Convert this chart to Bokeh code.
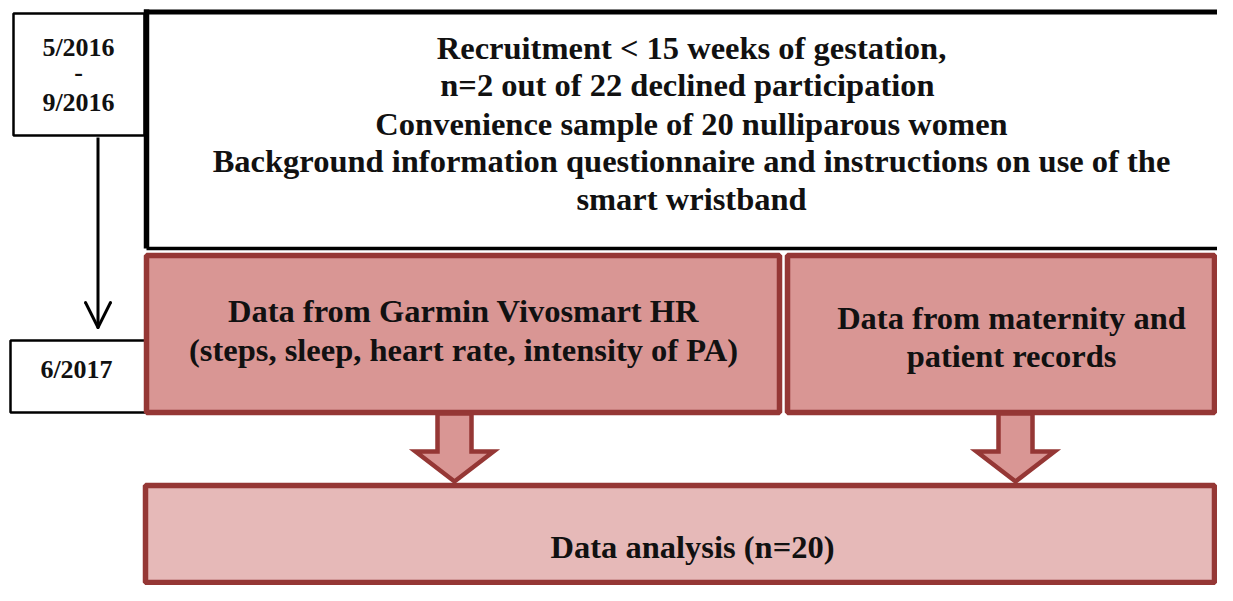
from bokeh.plotting import figure
from bokeh.models import Range1d
from bokeh.embed import file_html
from bokeh.resources import INLINE
from bokeh.core.properties import value

# ---- texts ----
period_start = ["5/2016", "-", "9/2016"]
period_end = ["6/2017"]
recruit_lines = [
    "Recruitment < 15 weeks of gestation,",
    "n=2  out of 22 declined participation",
    "Convenience sample of 20 nulliparous women",
    "Background information questionnaire and instructions on use of the",
    "smart wristband",
]
garmin_lines = ["Data from Garmin Vivosmart HR", "(steps, sleep, heart rate, intensity of PA)"]
records_lines = ["Data from maternity and", "patient records"]
analysis_lines = ["Data analysis (n=20)"]

FILL_RED = "#D99694"
FILL_LIGHT = "#E6B9B8"
EDGE_RED = "#953735"
FONT = value("Liberation Serif")

p = figure(width=1217, height=585, x_range=Range1d(0, 1217), y_range=Range1d(585, 0),
           output_backend="svg", toolbar_location=None, min_border=0)
p.axis.visible = False
p.grid.visible = False
p.outline_line_color = None
p.background_fill_color = "white"


def texts(xc, ys, lines, size):
    p.text(x=[xc] * len(lines), y=ys, text=lines, text_align="center",
           text_baseline="alphabetic", text_font=FONT, text_font_style="bold",
           text_font_size=size, text_color="#111111")


# left timeline boxes
p.quad(left=[13], right=[144], top=[13], bottom=[135], fill_color="white",
       line_color="black", line_width=2.5)
p.quad(left=[10], right=[145], top=[340], bottom=[412], fill_color="white",
       line_color="black", line_width=2.5)
texts(78, [47, 72, 102], period_start, "26px")
texts(76, [369], period_end, "26px")

# timeline arrow
p.segment(x0=[97.5], y0=[137], x1=[97.5], y1=[326], line_color="black", line_width=3)
p.segment(x0=[85, 110], y0=[302, 302], x1=[97.5, 97.5], y1=[327, 327],
          line_color="black", line_width=3, line_cap="round")

# main recruitment box
p.quad(left=[146], right=[1216], top=[11], bottom=[248], fill_color="white", line_color=None)
p.segment(x0=[143.5, 146, 146], y0=[11.5, 9, 248], x1=[1217, 146, 1217], y1=[11.5, 248, 248],
          line_color="black", line_width=[5, 5.5, 3.5])
texts(691, [47, 84, 123, 160, 198], recruit_lines, "32.5px")

# data source boxes
p.quad(left=[146, 787], right=[779, 1214], top=[255, 255], bottom=[412, 412],
       fill_color=FILL_RED, line_color=EDGE_RED, line_width=5.5)
texts(463, [310, 349], garmin_lines, "32.5px")
texts(1011, [317, 355], records_lines, "32.5px")


# block arrows
def block_arrow(xc):
    sw, hw = 17, 39
    y0, yh, yt = 413, 451, 481
    xs = [xc - sw, xc + sw, xc + sw, xc + hw, xc, xc - hw, xc - sw]
    ys = [y0, y0, yh, yh, yt, yh, yh]
    return xs, ys


axs, ays = zip(*[block_arrow(c) for c in (454, 1015)])
p.patches(xs=list(axs), ys=list(ays), fill_color=FILL_RED, line_color=EDGE_RED,
          line_width=4.5, line_join="miter")

# analysis box
p.quad(left=[145], right=[1214], top=[485], bottom=[582], fill_color=FILL_LIGHT,
       line_color=EDGE_RED, line_width=5.5)
texts(692, [546], analysis_lines, "32.5px")

open("out.html", "w").write(file_html(p, INLINE))
